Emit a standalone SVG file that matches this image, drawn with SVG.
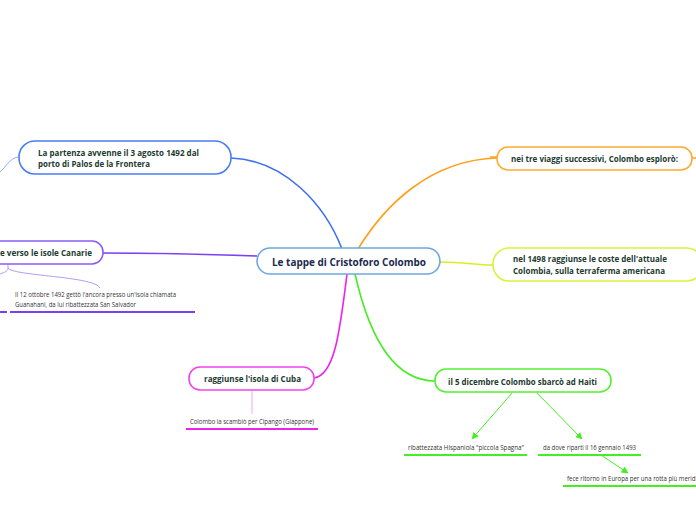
<svg xmlns="http://www.w3.org/2000/svg" width="696" height="520" viewBox="0 0 696 520">
<style>
.t{font-family:"Open Sans","Noto Sans","Liberation Sans",sans-serif;font-weight:700;font-size:9px;fill:#1d3b30}
.c{font-size:10px;fill:#1b2a4e}
.s{font-family:"Open Sans","Noto Sans","Liberation Sans",sans-serif;font-size:6.5px;fill:#333}
.box{fill:#fff;stroke-width:1.6}
.ln{fill:none}
</style>
<defs>
<marker id="ag" viewBox="0 0 10 10" refX="9" refY="5" markerWidth="7" markerHeight="7" orient="auto" markerUnits="userSpaceOnUse">
<path d="M0,0 L10,5 L0,10 z" fill="#44ee22"/>
</marker>
</defs>
<g id="connectors" class="ln">
<path d="M342,249 C325,205 285,160 231,158" stroke="#3d6ef5" stroke-width="1.6"/>
<path d="M358,249 C385,205 430,160 497,158" stroke="#ff9f1a" stroke-width="1.6"/>
<path d="M257,256 C200,254 150,253 103,253" stroke="#7b3ff2" stroke-width="1.6"/>
<path d="M440,262 C465,262 475,265 493,265" stroke="#d8f020" stroke-width="1.6"/>
<path d="M347,274 C340,330 335,375 314,378" stroke="#ee22ee" stroke-width="1.6"/>
<path d="M355,274 C370,340 395,381 435,381" stroke="#44ee22" stroke-width="1.6"/>
<path d="M18,157 C10,158 5,168 0,172" stroke="#88aaff" stroke-width="1"/>
<path d="M692,158 L696,158" stroke="#ff9f1a" stroke-width="1.5"/>
<path d="M490,157 L497,157" stroke="#ff9f1a" stroke-width="1.5"/>
<path d="M8,263 L8,268 C8,272 2,273 0,274 M8,268 C12,276 95,276 100,288" stroke="#b79cf5" stroke-width="1"/>
<path d="M252,390 L252,414" stroke="#f5a8f0" stroke-width="1"/>
<path d="M512,393 L472,439" stroke="#44ee22" stroke-width="1" marker-end="url(#ag)"/>
<path d="M537,393 L582,439" stroke="#44ee22" stroke-width="1" marker-end="url(#ag)"/>
<path d="M601,455 L628,473" stroke="#44ee22" stroke-width="1" marker-end="url(#ag)"/>
</g>
<g id="central">
<rect class="box" x="257" y="248" width="183" height="26" rx="13" stroke="#6fa8dc"/>
<text class="t c" x="349" y="266" text-anchor="middle" textLength="154" lengthAdjust="spacingAndGlyphs">Le tappe di Cristoforo Colombo</text>
</g>
<g id="n-partenza">
<rect class="box" x="19" y="141" width="212" height="33" rx="16" stroke="#4a7cf5"/>
<text class="t" x="38" y="156" textLength="161" lengthAdjust="spacingAndGlyphs">La partenza avvenne il 3 agosto 1492 dal</text>
<text class="t" x="38" y="167" textLength="112" lengthAdjust="spacingAndGlyphs">porto di Palos de la Frontera</text>
</g>
<g id="n-canarie">
<rect class="box" x="-30" y="241" width="133" height="23" rx="11" stroke="#8a5cf5"/>
<text class="t" x="0" y="256" textLength="92" lengthAdjust="spacingAndGlyphs">e verso le isole Canarie</text>
</g>
<g id="n-guanahani">
<text class="s" x="15" y="297" textLength="161" lengthAdjust="spacingAndGlyphs">Il 12 ottobre 1492 gettò l'ancora presso un'isola chiamata</text>
<text class="s" x="15" y="307" textLength="121" lengthAdjust="spacingAndGlyphs">Guanahani, da lui ribattezzata San Salvador</text>
<path d="M10,312 L195,312 M0,312 L7,312" stroke="#7b3ff2" stroke-width="2"/>
</g>
<g id="n-viaggi">
<rect class="box" x="497" y="147" width="195" height="23" rx="11" stroke="#ffaa33"/>
<text class="t" x="511" y="162" textLength="167" lengthAdjust="spacingAndGlyphs">nei tre viaggi successivi, Colombo esplorò:</text>
</g>
<g id="n-colombia">
<rect class="box" x="493" y="248" width="210" height="33" rx="16" stroke="#d4f53c"/>
<text class="t" x="513" y="262" textLength="154" lengthAdjust="spacingAndGlyphs">nel 1498 raggiunse le coste dell'attuale</text>
<text class="t" x="513" y="274" textLength="152" lengthAdjust="spacingAndGlyphs">Colombia, sulla terraferma americana</text>
</g>
<g id="n-cuba">
<rect class="box" x="189" y="367" width="125" height="23" rx="11" stroke="#ee44ee"/>
<text class="t" x="204" y="382" textLength="97" lengthAdjust="spacingAndGlyphs">raggiunse l'isola di Cuba</text>
</g>
<g id="n-cipango">
<text class="s" x="190" y="424" textLength="124" lengthAdjust="spacingAndGlyphs">Colombo la scambiò per Cipango (Giappone)</text>
<path d="M186,429 L318,429" stroke="#ee22ee" stroke-width="2"/>
</g>
<g id="n-haiti">
<rect class="box" x="435" y="369" width="176" height="23" rx="11" stroke="#55ee33"/>
<text class="t" x="448" y="385" textLength="149" lengthAdjust="spacingAndGlyphs">il 5 dicembre Colombo sbarcò ad Haiti</text>
</g>
<g id="n-hispaniola">
<text class="s" x="408" y="450" textLength="116" lengthAdjust="spacingAndGlyphs">ribattezzata Hispaniola "piccola Spagna"</text>
<path d="M404,455 L527,455" stroke="#44ee22" stroke-width="2"/>
</g>
<g id="n-gennaio">
<text class="s" x="543" y="450" textLength="93" lengthAdjust="spacingAndGlyphs">da dove ripartì il 16 gennaio 1493</text>
<path d="M538,455 L641,455" stroke="#44ee22" stroke-width="2"/>
</g>
<g id="n-europa">
<text class="s" x="567" y="481" textLength="130" lengthAdjust="spacingAndGlyphs">fece ritorno in Europa per una rotta più meridi</text>
<path d="M563,486 L696,486" stroke="#44ee22" stroke-width="2"/>
</g>
</svg>
